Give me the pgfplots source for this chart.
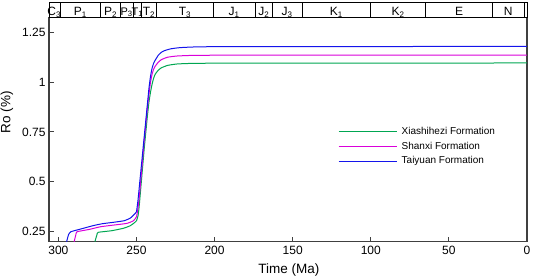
\documentclass[border=0pt]{standalone}
\usepackage{fontspec}
\setmainfont{Liberation Sans}
\usepackage{pgfplots}
\pgfplotsset{compat=1.18}
\definecolor{cgreen}{RGB}{0,166,81}
\definecolor{cmag}{RGB}{218,0,218}
\definecolor{cblue}{RGB}{20,20,235}
\definecolor{axgray}{RGB}{64,64,64}
\begin{document}
\begin{tikzpicture}
\begin{axis}[name=main, at={(0,0)}, anchor=south west, scale only axis,
  width=478pt, height=224pt,
  x dir=reverse, xmin=0, xmax=306, ymin=0.2, ymax=1.323,
  xtick={0,50,...,300}, ytick={0.25,0.5,0.75,1,1.25},
  tick align=inside, xtick pos=bottom, ytick pos=left, major tick length=5pt,
  axis line style={axgray, line width=1.1pt}, tick style={axgray, line width=1pt},
  ticklabel style={font=\fontsize{12}{14}\selectfont},
  /pgf/number format/assume math mode=true,
  xticklabel style={yshift=-0.5pt},
  xlabel={Time (Ma)}, ylabel={Ro (\%)},
  label style={font=\fontsize{13.5}{15}\selectfont},
  xlabel style={at={(axis description cs:0.502,-0.126)}, anchor=center},
  ylabel style={at={(axis description cs:-0.088,0.579)}, anchor=center, rotate=0},
  legend style={draw=none, fill=none, at={(0.6046,0.521)}, anchor=north west,
    font=\fontsize{10}{12}\selectfont, row sep=2pt, inner sep=0pt,
    cells={anchor=west}, nodes={inner xsep=4.5pt}},
  legend image code/.code={\draw[#1, line width=1pt] (0pt,0pt) -- (58pt,0pt);},
  every axis plot/.append style={line width=1pt, smooth, tension=0.3},
]
\addplot[cgreen] coordinates {
(276.6,0.20) (275.3,0.235) (274.5,0.247) (266,0.255) (258.5,0.267) (254,0.28)
(251,0.297) (250,0.305) (249,0.33) (248.5,0.36) (248,0.40) (247,0.49) (246,0.58)
(245,0.67) (244,0.75) (243,0.83) (242,0.90) (241,0.95) (240,0.99) (239,1.02)
(238,1.04) (236,1.06) (234,1.072) (230,1.084) (224,1.091) (214,1.094) (190,1.095) (0,1.096)};
\addlegendentry{Xiashihezi Formation}
\addplot[cmag] coordinates {
(289.9,0.20) (288.8,0.235) (288,0.25) (280,0.262) (273,0.275) (265,0.283)
(256,0.292) (252,0.305) (250,0.325) (249,0.37) (248,0.44) (247,0.53) (246,0.62)
(245,0.71) (244,0.79) (243,0.87) (242,0.94) (241,1.0) (240,1.04) (239,1.065)
(238,1.08) (236,1.10) (234,1.113) (230,1.125) (224,1.131) (214,1.134) (190,1.135) (0,1.136)};
\addlegendentry{Shanxi Formation}
\addplot[cblue] coordinates {
(294.7,0.20) (293.5,0.235) (292,0.25) (285,0.265) (278,0.28) (272,0.29) (265,0.297)
(258,0.305) (254,0.318) (251,0.34) (250,0.35) (249,0.41) (248,0.49) (247,0.57)
(246,0.65) (245,0.73) (244,0.81) (243,0.89) (242,0.97) (241,1.03) (240,1.07)
(239,1.095) (238,1.11) (236,1.135) (234,1.15) (232,1.158) (228,1.167) (222,1.173)
(210,1.177) (180,1.178) (0,1.179)};
\addlegendentry{Taiyuan Formation}
\end{axis}
\begin{axis}[name=strat, at={(main.north west)}, anchor=south west, scale only axis,
  width=478pt, height=15.7pt, x dir=reverse, xmin=0, xmax=306, ymin=0, ymax=1,
  xtick=\empty, ytick=\empty, clip=false, axis line style={black, line width=0.8pt}]
\pgfplotsinvokeforeach{299,273,260,252,247,237,201,174,163,144,100,65,22,1.7}{
  \draw[black, line width=0.8pt] (axis cs:#1,0) -- (axis cs:#1,1);}
\node[anchor=base, inner sep=0pt, font=\fontsize{12}{13}\selectfont] at (axis cs:302.7,0.15) {C\textsubscript{3}};
\node[anchor=base, inner sep=0pt, font=\fontsize{12}{13}\selectfont] at (axis cs:286,0.15) {P\textsubscript{1}};
\node[anchor=base, inner sep=0pt, font=\fontsize{12}{13}\selectfont] at (axis cs:266.5,0.15) {P\textsubscript{2}};
\node[anchor=base, inner sep=0pt, font=\fontsize{11}{12}\selectfont] at (axis cs:256.3,0.15) {P\textsubscript{3}};
\node[anchor=base, inner sep=0pt, font=\fontsize{11}{12}\selectfont] at (axis cs:249.4,0.15) {T\textsubscript{1}};
\node[anchor=base, inner sep=0pt, font=\fontsize{12}{13}\selectfont] at (axis cs:242,0.15) {T\textsubscript{2}};
\node[anchor=base, inner sep=0pt, font=\fontsize{12}{13}\selectfont] at (axis cs:219,0.15) {T\textsubscript{3}};
\node[anchor=base, inner sep=0pt, font=\fontsize{12}{13}\selectfont] at (axis cs:187.5,0.15) {J\textsubscript{1}};
\node[anchor=base, inner sep=0pt, font=\fontsize{12}{13}\selectfont] at (axis cs:168.5,0.15) {J\textsubscript{2}};
\node[anchor=base, inner sep=0pt, font=\fontsize{12}{13}\selectfont] at (axis cs:153.5,0.15) {J\textsubscript{3}};
\node[anchor=base, inner sep=0pt, font=\fontsize{12}{13}\selectfont] at (axis cs:122,0.15) {K\textsubscript{1}};
\node[anchor=base, inner sep=0pt, font=\fontsize{12}{13}\selectfont] at (axis cs:82.5,0.15) {K\textsubscript{2}};
\node[anchor=base, inner sep=0pt, font=\fontsize{12}{13}\selectfont] at (axis cs:43.5,0.15) {E};
\node[anchor=base, inner sep=0pt, font=\fontsize{12}{13}\selectfont] at (axis cs:12,0.15) {N};
\end{axis}
\pgfresetboundingbox
\path (main.south west) ++(-49pt,-37.3pt) rectangle ++(533pt,279pt);
\end{tikzpicture}
\end{document}
